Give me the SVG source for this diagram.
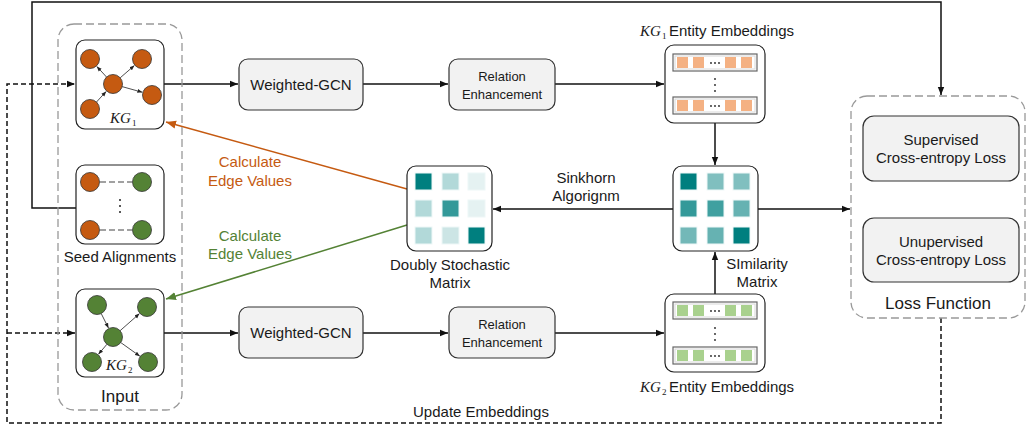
<svg xmlns="http://www.w3.org/2000/svg" width="1028" height="430" viewBox="0 0 1028 430">
<defs>
<style>
.t{font-family:"Liberation Sans",Arial,sans-serif;font-size:15px;fill:#1a1a1a;text-anchor:middle}
.t13{font-family:"Liberation Sans",Arial,sans-serif;font-size:13px;fill:#1a1a1a;text-anchor:middle}
.kg{font-family:"Liberation Serif","Times New Roman",serif;font-style:italic;font-size:15px;fill:#1a1a1a}
.sub{font-family:"Liberation Serif","Times New Roman",serif;font-size:9px;fill:#1a1a1a}
.node{fill:#fff;stroke:#222;stroke-width:1.2}
.proc{fill:#f2f2f2;stroke:#333;stroke-width:1.2}
.grp{fill:none;stroke:#999;stroke-width:1.3;stroke-dasharray:8 4}
.ln{fill:none;stroke:#111;stroke-width:1.5}
.dash{fill:none;stroke:#111;stroke-width:1.5;stroke-dasharray:5 3}
.org{fill:#c55a11;stroke:#333;stroke-width:0.8}
.grn{fill:#548235;stroke:#333;stroke-width:0.8}
.ka{stroke:#222;stroke-width:0.8;fill:none}
.row{fill:#fff;stroke:#666;stroke-width:1.2}
.rowi{fill:none;stroke:#d8d8d8;stroke-width:1}
.eo{fill:#f4b183}
.eg{fill:#a9d18e}
.dot{fill:#222}
.sq{stroke:#eef7f7;stroke-width:1}
</style>
<marker id="ah" viewBox="0 0 10 10" refX="10" refY="5" markerWidth="8" markerHeight="8" markerUnits="userSpaceOnUse" orient="auto"><path d="M0,1 L10,5 L0,9 z" fill="#111"/></marker>
<marker id="ahs" viewBox="0 0 10 10" refX="10" refY="5" markerWidth="5" markerHeight="5" markerUnits="userSpaceOnUse" orient="auto"><path d="M0,1 L10,5 L0,9 z" fill="#222"/></marker>
<marker id="aho" viewBox="0 0 10 10" refX="10" refY="5" markerWidth="10" markerHeight="10" markerUnits="userSpaceOnUse" orient="auto"><path d="M0,1 L10,5 L0,9 z" fill="#c55a11"/></marker>
<marker id="ahg" viewBox="0 0 10 10" refX="10" refY="5" markerWidth="10" markerHeight="10" markerUnits="userSpaceOnUse" orient="auto"><path d="M0,1 L10,5 L0,9 z" fill="#548235"/></marker>
</defs>
<rect width="1028" height="430" fill="#fff"/>

<g id="connectors">
<path class="ln" d="M76,208 H32 V2 H941 V95" marker-end="url(#ah)"/>
<path class="dash" d="M941,318 V423 H7 V84 H75" marker-end="url(#ah)"/>
<path class="dash" d="M7,333 H75" marker-end="url(#ah)"/>
<path class="ln" d="M164,84 H238" marker-end="url(#ah)"/>
<path class="ln" d="M363,84 H448" marker-end="url(#ah)"/>
<path class="ln" d="M555,84 H664" marker-end="url(#ah)"/>
<path class="ln" d="M164,333 H238" marker-end="url(#ah)"/>
<path class="ln" d="M363,333 H448" marker-end="url(#ah)"/>
<path class="ln" d="M555,333 H664" marker-end="url(#ah)"/>
<path class="ln" d="M715,123 V165" marker-end="url(#ah)"/>
<path class="ln" d="M715,294 V252" marker-end="url(#ah)"/>
<path class="ln" d="M673,209 H493" marker-end="url(#ah)"/>
<path class="ln" d="M758,209 H850" marker-end="url(#ah)"/>
<path d="M407,189 L166,122" fill="none" stroke="#c55a11" stroke-width="1.5" marker-end="url(#aho)"/>
<path d="M407,225 L166,299" fill="none" stroke="#548235" stroke-width="1.5" marker-end="url(#ahg)"/>
<text class="t" x="481" y="417">Update Embeddings</text>
<text class="t" x="586" y="183">Sinkhorn</text>
<text class="t" x="586" y="201">Algorignm</text>
<text class="t" x="250" y="167" style="fill:#c55a11">Calculate</text>
<text class="t" x="250" y="186" style="fill:#c55a11">Edge Values</text>
<text class="t" x="250" y="241" style="fill:#548235">Calculate</text>
<text class="t" x="250" y="259" style="fill:#548235">Edge Values</text>
</g>

<g id="input">
<rect class="grp" x="58" y="24" width="124" height="386" rx="16"/>
<text class="t" x="120" y="402" style="font-size:17px">Input</text>
</g>

<g id="kg1">
<rect class="node" x="76" y="40" width="88" height="89" rx="9"/>
<line class="ka" x1="106.5" y1="77" x2="96.8" y2="66.4" marker-end="url(#ahs)"/>
<line class="ka" x1="120.2" y1="77.8" x2="134.4" y2="65.5" marker-end="url(#ahs)"/>
<line class="ka" x1="122.1" y1="86.6" x2="142.4" y2="92.3" marker-end="url(#ahs)"/>
<line class="ka" x1="96.5" y1="102" x2="106.2" y2="91.4" marker-end="url(#ahs)"/>
<circle class="org" cx="90" cy="59" r="9.5"/>
<circle class="org" cx="142" cy="59" r="9.5"/>
<circle class="org" cx="113" cy="84" r="9.5"/>
<circle class="org" cx="152" cy="95" r="9.5"/>
<circle class="org" cx="90" cy="109" r="9.5"/>
<text class="kg" x="110" y="123">KG</text><text class="sub" x="132" y="126">1</text>
</g>

<g id="seed">
<rect class="node" x="76" y="165" width="88" height="79" rx="9"/>
<line x1="100" y1="182" x2="132" y2="182" stroke="#444" stroke-width="1.2" stroke-dasharray="6 3"/>
<line x1="100" y1="230" x2="132" y2="230" stroke="#444" stroke-width="1.2" stroke-dasharray="6 3"/>
<circle class="org" cx="90" cy="182" r="9.5"/>
<circle class="grn" cx="142" cy="182" r="9.5"/>
<circle class="org" cx="90" cy="230" r="9.5"/>
<circle class="grn" cx="142" cy="230" r="9.5"/>
<circle class="dot" cx="120" cy="200" r="1"/>
<circle class="dot" cx="120" cy="206" r="1"/>
<circle class="dot" cx="120" cy="212" r="1"/>
<text class="t" x="120" y="262">Seed Alignments</text>
</g>

<g id="kg2">
<rect class="node" x="76" y="289" width="88" height="88" rx="9"/>
<line class="ka" x1="101.2" y1="313.5" x2="108.5" y2="328.1" marker-end="url(#ahs)"/>
<line class="ka" x1="120.1" y1="330.7" x2="139.5" y2="313.6" marker-end="url(#ahs)"/>
<line class="ka" x1="106.9" y1="344.3" x2="98.4" y2="354.3" marker-end="url(#ahs)"/>
<line class="ka" x1="120.7" y1="342.5" x2="139.9" y2="356.2" marker-end="url(#ahs)"/>
<circle class="grn" cx="97" cy="305" r="9.5"/>
<circle class="grn" cx="147" cy="307" r="9.5"/>
<circle class="grn" cx="113" cy="337" r="9.5"/>
<circle class="grn" cx="92" cy="362" r="9.5"/>
<circle class="grn" cx="148" cy="362" r="9.5"/>
<text class="kg" x="106" y="370">KG</text><text class="sub" x="128" y="373">2</text>
</g>

<g id="wgcn1">
<rect class="proc" x="239" y="59" width="124" height="51" rx="9"/>
<text class="t" x="301" y="90">Weighted-GCN</text>
</g>
<g id="rel1">
<rect class="proc" x="449" y="59" width="106" height="51" rx="9"/>
<text class="t13" x="502" y="81">Relation</text>
<text class="t13" x="502" y="99">Enhancement</text>
</g>
<g id="wgcn2">
<rect class="proc" x="239" y="307" width="124" height="51" rx="9"/>
<text class="t" x="301" y="338">Weighted-GCN</text>
</g>
<g id="rel2">
<rect class="proc" x="449" y="307" width="106" height="51" rx="9"/>
<text class="t13" x="502" y="329">Relation</text>
<text class="t13" x="502" y="347">Enhancement</text>
</g>

<g id="emb1">
<text class="kg" x="640" y="36">KG</text><text class="sub" x="662" y="39">1</text>
<text class="t" x="669" y="36" style="text-anchor:start">Entity Embeddings</text>
<rect class="node" x="665" y="45" width="100" height="78" rx="9"/>
<rect class="row" x="673" y="54" width="84" height="17"/>
<rect class="rowi" x="675" y="56" width="80" height="13"/>
<rect class="eo" x="677" y="57" width="11" height="11"/>
<rect class="eo" x="693" y="57" width="11" height="11"/>
<rect class="eo" x="725" y="57" width="11" height="11"/>
<rect class="eo" x="741" y="57" width="11" height="11"/>
<circle class="dot" cx="711" cy="63" r="0.9"/><circle class="dot" cx="715" cy="63" r="0.9"/><circle class="dot" cx="719" cy="63" r="0.9"/>
<circle class="dot" cx="715" cy="79" r="0.9"/><circle class="dot" cx="715" cy="85" r="0.9"/><circle class="dot" cx="715" cy="91" r="0.9"/>
<rect class="row" x="673" y="97" width="84" height="17"/>
<rect class="rowi" x="675" y="99" width="80" height="13"/>
<rect class="eo" x="677" y="100" width="11" height="11"/>
<rect class="eo" x="693" y="100" width="11" height="11"/>
<rect class="eo" x="725" y="100" width="11" height="11"/>
<rect class="eo" x="741" y="100" width="11" height="11"/>
<circle class="dot" cx="711" cy="106" r="0.9"/><circle class="dot" cx="715" cy="106" r="0.9"/><circle class="dot" cx="719" cy="106" r="0.9"/>
</g>

<g id="emb2">
<rect class="node" x="665" y="294" width="100" height="78" rx="9"/>
<rect class="row" x="673" y="302" width="84" height="17"/>
<rect class="rowi" x="675" y="304" width="80" height="13"/>
<rect class="eg" x="677" y="305" width="11" height="11"/>
<rect class="eg" x="693" y="305" width="11" height="11"/>
<rect class="eg" x="725" y="305" width="11" height="11"/>
<rect class="eg" x="741" y="305" width="11" height="11"/>
<circle class="dot" cx="711" cy="311" r="0.9"/><circle class="dot" cx="715" cy="311" r="0.9"/><circle class="dot" cx="719" cy="311" r="0.9"/>
<circle class="dot" cx="715" cy="328" r="0.9"/><circle class="dot" cx="715" cy="334" r="0.9"/><circle class="dot" cx="715" cy="340" r="0.9"/>
<rect class="row" x="673" y="347" width="84" height="17"/>
<rect class="rowi" x="675" y="349" width="80" height="13"/>
<rect class="eg" x="677" y="350" width="11" height="11"/>
<rect class="eg" x="693" y="350" width="11" height="11"/>
<rect class="eg" x="725" y="350" width="11" height="11"/>
<rect class="eg" x="741" y="350" width="11" height="11"/>
<circle class="dot" cx="711" cy="356" r="0.9"/><circle class="dot" cx="715" cy="356" r="0.9"/><circle class="dot" cx="719" cy="356" r="0.9"/>
<text class="kg" x="640" y="392">KG</text><text class="sub" x="662" y="395">2</text>
<text class="t" x="669" y="392" style="text-anchor:start">Entity Embeddings</text>
</g>

<g id="dsm">
<rect class="node" x="407" y="166" width="85" height="85" rx="9"/>
<rect class="sq" x="415" y="173" width="17" height="17" fill="#007f7f"/>
<rect class="sq" x="442" y="173" width="17" height="17" fill="#b2d9d9"/>
<rect class="sq" x="468" y="173" width="17" height="17" fill="#e5f2f2"/>
<rect class="sq" x="415" y="200" width="17" height="17" fill="#b2d9d9"/>
<rect class="sq" x="442" y="200" width="17" height="17" fill="#339999"/>
<rect class="sq" x="468" y="200" width="17" height="17" fill="#e5f2f2"/>
<rect class="sq" x="415" y="227" width="17" height="17" fill="#b2d9d9"/>
<rect class="sq" x="442" y="227" width="17" height="17" fill="#cce5e5"/>
<rect class="sq" x="468" y="227" width="17" height="17" fill="#007f7f"/>
<text class="t" x="450" y="270">Doubly Stochastic</text>
<text class="t" x="450" y="288">Matrix</text>
</g>

<g id="sim">
<rect class="node" x="673" y="166" width="85" height="85" rx="9"/>
<rect class="sq" x="680" y="173" width="17" height="17" fill="#007f7f"/>
<rect class="sq" x="707" y="173" width="17" height="17" fill="#80bfbf"/>
<rect class="sq" x="733" y="173" width="17" height="17" fill="#80bfbf"/>
<rect class="sq" x="680" y="200" width="17" height="17" fill="#339999"/>
<rect class="sq" x="707" y="200" width="17" height="17" fill="#40a0a0"/>
<rect class="sq" x="733" y="200" width="17" height="17" fill="#66b2b2"/>
<rect class="sq" x="680" y="227" width="17" height="17" fill="#73b8b8"/>
<rect class="sq" x="707" y="227" width="17" height="17" fill="#66b2b2"/>
<rect class="sq" x="733" y="227" width="17" height="17" fill="#007f7f"/>
<text class="t" x="757" y="269">SImilarity</text>
<text class="t" x="757" y="287">Matrix</text>
</g>

<g id="loss">
<rect class="grp" x="851" y="96" width="174" height="222" rx="16"/>
<text class="t" x="938" y="309" style="font-size:17px">Loss Function</text>
</g>
<g id="sup">
<rect class="proc" x="863" y="116" width="156" height="65" rx="11"/>
<text class="t" x="941" y="145">Supervised</text>
<text class="t" x="941" y="163">Cross-entropy Loss</text>
</g>
<g id="unsup">
<rect class="proc" x="863" y="218" width="156" height="64" rx="11"/>
<text class="t" x="941" y="247">Unupervised</text>
<text class="t" x="941" y="265">Cross-entropy Loss</text>
</g>
</svg>
